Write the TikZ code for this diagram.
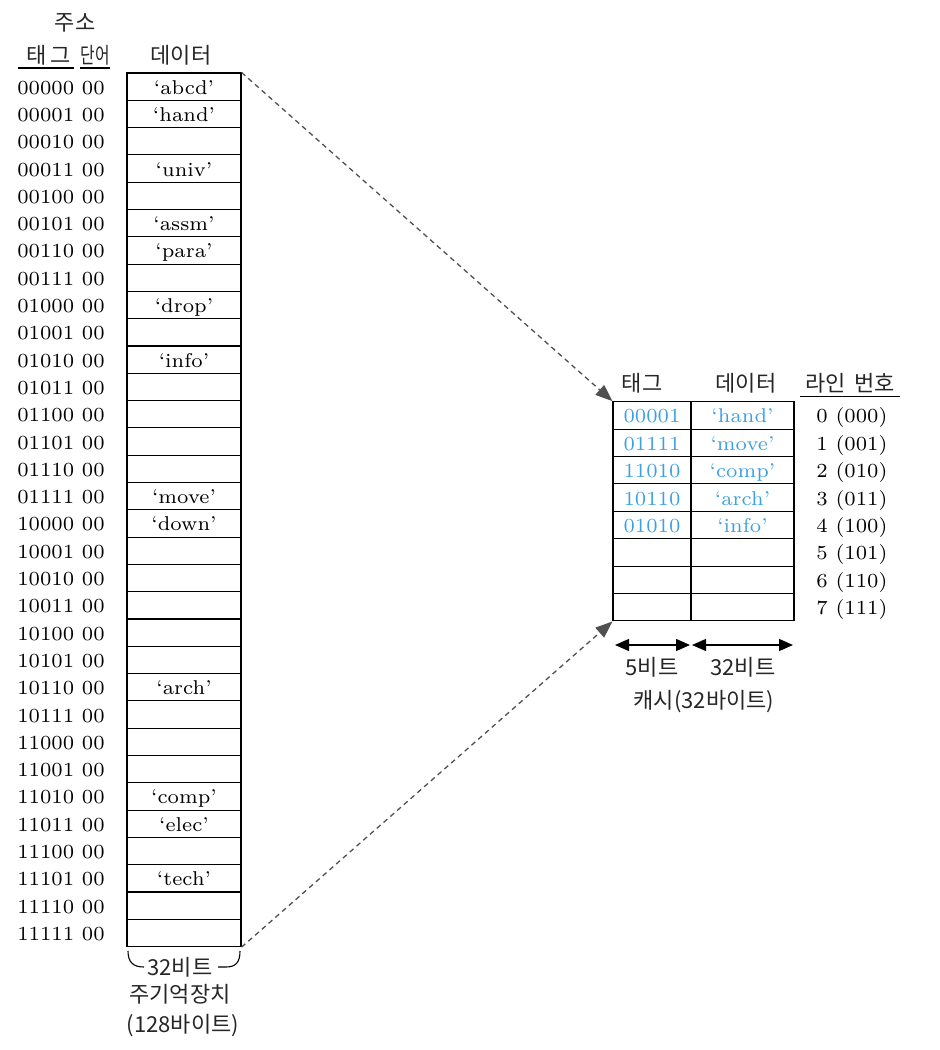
\documentclass[tikz,border=0pt]{standalone}
\usepackage{fontspec}
\usepackage{graphicx}
\newfontfamily\kr{Noto Sans CJK KR}
\newfontfamily\lmsev[Ligatures=TeX]{lmroman7-regular.otf}
\usetikzlibrary{arrows.meta}
\definecolor{cblue}{RGB}{60,160,225}
\definecolor{dgray}{RGB}{80,80,80}
\begin{document}
\begin{tikzpicture}[x=1pt,y=-1pt,
  rowtxt/.style={font=\lmsev\fontsize{20}{24}\selectfont, text height=16pt, text depth=1pt, inner sep=0},
  krt/.style={font=\kr\fontsize{22}{26}\selectfont, inner sep=0, text=black!85},
  memcell/.style={rowtxt, draw, line width=1.1pt, minimum width=114pt, minimum height=27.3pt},
  tagcell/.style={rowtxt, draw, line width=1.1pt, minimum width=78pt, minimum height=27.4pt, text=cblue},
  datcell/.style={rowtxt, draw, line width=1.1pt, minimum width=103pt, minimum height=27.4pt, text=cblue},
  uline/.style={line width=1.1pt},
  dasharrow/.style={dgray, line width=1.3pt, dash pattern=on 5pt off 4pt, -{Triangle[length=17pt,width=13pt]}},
  dimarrow/.style={line width=1.3pt, {Triangle[length=14pt,width=12pt]}-{Triangle[length=14pt,width=12pt]}}
]
\useasboundingbox (0,0) rectangle (940,1050);

% header of main memory
\node[krt] (hjuso) at (75,23) {주소};
\node[krt] (htag) at (48.5,55.5) {태\hspace{4pt}그};
\node[krt] (hword) at (95,55.5) {\scalebox{0.72}[1]{단어}};
\node[krt] (hdata) at (181,55.5) {데이터};
\draw[uline] (18,68) -- (74,68);
\draw[uline] (80,68) -- (110,68);

% main memory rows
\foreach \i/\addr/\dat in {
 0/00000/`abcd', 1/00001/`hand', 2/00010/, 3/00011/`univ', 4/00100/,
 5/00101/`assm', 6/00110/`para', 7/00111/, 8/01000/`drop', 9/01001/,
 10/01010/`info', 11/01011/, 12/01100/, 13/01101/, 14/01110/,
 15/01111/`move', 16/10000/`down', 17/10001/, 18/10010/, 19/10011/,
 20/10100/, 21/10101/, 22/10110/`arch', 23/10111/, 24/11000/,
 25/11001/, 26/11010/`comp', 27/11011/`elec', 28/11100/,
 29/11101/`tech', 30/11110/, 31/11111/} {
  \node[memcell] (m\i) at (184,{73+27.3*(\i+0.5)}) {\dat};
  \node[rowtxt] (a\i) at (61,{73+27.3*(\i+0.5)}) {\addr\ 00};
}

% brace under memory
\coordinate (bl) at (128,951);
\coordinate (br) at (240,951);
\node[krt] (b32) at (180,967.5) {32비트};
\draw[line width=1.1pt] (bl) .. controls (128,962) and (133,967) .. (144,967);
\draw[line width=1.1pt] (218,967) -- (226,967) .. controls (236,967) and (240,962) .. (br);
\node[krt] (mname) at (180,994) {주기억장치};
\node[krt] (msize) at (183,1026) {(128바이트)};

% cache header
\node[krt] (ctag) at (642,383) {태그};
\node[krt] (cdata) at (746,383) {데이터};
\node[krt] (cline) at (850,383) {라인\hspace{9pt}번호};
\draw[uline] (800,396.5) -- (900,396.5);

% cache rows
\foreach \j/\t/\d/\l in {
 0/00001/`hand'/000, 1/01111/`move'/001, 2/11010/`comp'/010, 3/10110/`arch'/011,
 4/01010/`info'/100, 5///101, 6///110, 7///111} {
  \node[tagcell] (ct\j) at (652,{401.7+27.4*(\j+0.5)}) {\t};
  \node[datcell] (cd\j) at (742.5,{401.7+27.4*(\j+0.5)}) {\d};
  \pgfmathtruncatemacro{\n}{\j}
  \node[rowtxt] (ln\j) at (852,{401.7+27.4*(\j+0.5)}) {\n\ (\l)};
}

% dashed mapping arrows
\draw[dasharrow] (m0.north east) -- (ct0.north west);
\draw[dasharrow] (m31.south east) -- (ct7.south west);

% width arrows under cache
\coordinate (w0) at (615,645);
\coordinate (w1) at (690,645);
\coordinate (w2) at (692,645);
\coordinate (w3) at (793,645);
\draw[dimarrow] (w0) -- (w1);
\draw[dimarrow] (w2) -- (w3);
\node[krt] (c5) at (652,667) {5비트};
\node[krt] (c32) at (743,667) {32비트};
\node[krt] (cname) at (704,702) {캐시(32바이트)};
\end{tikzpicture}
\end{document}
